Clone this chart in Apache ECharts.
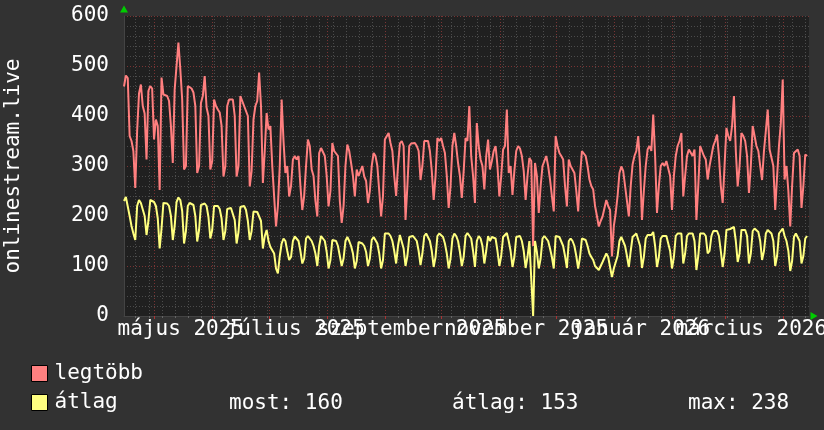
<!DOCTYPE html>
<html><head><meta charset="utf-8">
<script src="https://cdn.jsdelivr.net/npm/echarts@6/dist/echarts.min.js"></script>
<style>html,body{margin:0;padding:0;background:#323232;}#c{width:824px;height:430px;}</style>
</head><body><div id="c"></div>
<script>
// first day of data (Monday), one value per day
const startDay = [2025, 3, 14];
const monthStarts = [[2025,4],[2025,5],[2025,6],[2025,7],[2025,8],[2025,9],[2025,10],[2025,11],[2026,0],[2026,1],[2026,2],[2026,3]];
const labelMonths = [[2025,4],[2025,6],[2025,8],[2025,10],[2026,0],[2026,2]];
const monthLabels = ['május 2025','július 2025','szeptember 2025','november 2025','január 2026','március 2026'];
const seriesNames = ['legtöbb','átlag'];
const statTexts = ['most: 160','átlag: 153','max: 238'];
const yTicks = [0,100,200,300,400,500,600];

const legtobb = [
459,481,476,360,350,330,256, 370,445,463,420,405,313,450, 460,455,353,393,380,252,477, 443,445,440,430,380,306,453,
450,547,494,433,293,300,460, 460,455,447,420,286,300,426, 440,480,417,400,293,310,433, 420,413,407,380,279,300,420,
433,430,433,400,279,300,440, 438,420,417,400,259,290,393, 420,430,487,420,266,330,406, 373,380,300,239,179,220,300,
433,350,286,300,239,260,313, 320,313,320,260,212,240,300, 353,340,293,280,230,199,326, 336,340,320,280,219,250,346,
330,326,320,230,186,220,300, 343,330,306,280,239,293,280, 290,300,279,270,226,250,300, 326,320,300,250,199,240,353,
350,366,346,330,280,240,300, 345,350,340,192,260,340,345, 342,346,340,330,272,300,350, 348,350,330,290,232,280,356,
350,356,340,326,280,216,260, 340,366,340,306,280,236,290, 356,350,420,320,280,226,386, 340,313,300,253,320,353,293,
310,330,340,300,239,280,333, 340,413,286,300,242,290,330, 340,335,320,290,232,280,316, 310,140,306,280,206,260,300,
310,320,300,273,240,209,360, 340,326,320,313,260,219,313, 300,300,286,250,209,280,330, 325,320,300,273,260,253,220,
200,179,190,199,199,232,220, 212,119,180,206,240,286,299, 290,260,230,199,260,303,320, 330,360,300,192,250,300,333,
340,330,403,320,206,260,300, 306,300,310,306,280,212,280, 320,340,350,366,239,280,320, 333,330,320,333,192,260,340,
330,320,313,273,300,320,340, 350,363,320,260,226,300,376, 360,350,380,440,330,259,300, 366,360,350,320,246,300,380,
360,340,330,300,272,330,370, 413,333,330,300,212,280,340, 386,473,273,300,250,179,260, 326,330,333,320,216,260,323,
320
];
const atlag = [
230,238,234,200,180,165,152, 220,232,226,222,200,162,190, 232,232,228,220,195,135,175, 226,228,225,220,200,152,180,
228,237,232,210,145,170,220, 226,226,222,200,149,172,222, 226,225,220,198,155,172,220, 222,220,214,195,152,170,214,
216,216,212,192,145,168,218, 222,220,212,190,152,170,209, 210,208,205,190,135,160,172, 150,138,142,125,95,85,120,
145,155,150,130,112,118,150, 159,158,150,130,105,115,155, 160,158,150,140,125,100,140, 160,158,150,128,95,112,152,
155,150,140,120,100,115,150, 158,150,140,125,95,110,148, 150,145,140,128,100,115,152, 158,155,145,125,95,112,165,
169,165,160,150,130,105,140, 162,160,135,100,120,158,162, 160,158,150,130,102,125,160, 165,162,150,130,98,118,160,
165,165,158,145,125,95,115, 155,165,160,150,128,100,118, 160,166,168,155,130,98,150, 160,155,140,105,130,160,150,
158,160,155,130,100,120,158, 162,166,150,130,98,118,158, 162,160,150,130,96,118,150, 148,0,150,128,95,115,155,
160,160,150,135,118,95,160, 162,158,155,140,120,96,150, 155,150,140,120,95,118,155, 158,152,140,125,118,112,100,
98,92,100,108,105,125,118, 122,78,95,98,120,150,158, 155,140,120,98,130,158,162, 165,168,140,96,118,155,162,
165,162,168,140,98,118,155, 160,162,160,158,130,95,118, 160,165,168,165,105,125,160, 165,168,165,150,92,120,165,
168,165,160,125,130,160,170, 172,170,160,130,98,125,172, 176,174,172,178,150,108,125, 172,175,172,160,105,125,170,
175,172,168,150,112,130,165, 172,170,165,150,100,120,165, 170,175,160,150,130,90,110, 158,165,162,150,105,120,155,
160
];

const DAY = 86400000;
const t0 = Date.UTC(startDay[0], startDay[1], startDay[2]);
const dayOf = m => (Date.UTC(m[0], m[1], 1) - t0) / DAY;
const xMin = 0.75, xMax = 365.75;
const pinkData = legtobb.map((v, i) => [xMin + i, v]);
const yellowData = atlag.map((v, i) => [xMin + i, v]);
const mondays = []; for (let d = 7; d < xMax; d += 7) mondays.push(d);
const monthLines = monthStarts.map(dayOf);
const labelPos = labelMonths.map(m => dayOf(m) + 14);
const FONT = 'DejaVu Sans Mono';
const TXT = '#ffffff';
const GRAY = '#4c4c4c', RED = '#7a3434';

const labelAxis = (idxs) => ({
  type: 'value', min: xMin, max: xMax, position: 'bottom',
  axisLine: {show: false}, axisTick: {show: false}, splitLine: {show: false},
  axisLabel: {show: true, customValues: idxs.map(k => labelPos[k]), margin: 3, color: TXT, fontFamily: FONT, fontSize: 21,
    hideOverlap: false,
    formatter: v => { const k = labelPos.indexOf(v); return k >= 0 ? monthLabels[k] : ''; }}
});

const chart = echarts.init(document.getElementById('c'), null, {renderer: 'canvas'});
chart.setOption({
  backgroundColor: '#323232',
  animation: false,
  grid: {left: 124, right: 15, top: 16, bottom: 114, backgroundColor: '#202020', show: true, borderWidth: 0,
         containLabel: false, outerBoundsMode: 'none'},
  legend: {
    orient: 'vertical', left: 26, top: 358, itemWidth: 16, itemHeight: 16, itemGap: 8,
    icon: 'rect', selectedMode: false,
    textStyle: {color: TXT, fontFamily: FONT, fontSize: 21, padding: [0, 0, 0, 2]},
    data: seriesNames.map((n, k) => ({name: n, itemStyle: {color: k ? '#ffff80' : '#ff8080', borderColor: '#000', borderWidth: 1}}))
  },
  graphic: [
    {type: 'text', left: 229, top: 393, style: {text: statTexts[0], fill: TXT, font: '21px "DejaVu Sans Mono"'}},
    {type: 'text', left: 452, top: 393, style: {text: statTexts[1], fill: TXT, font: '21px "DejaVu Sans Mono"'}},
    {type: 'text', left: 688, top: 393, style: {text: statTexts[2], fill: TXT, font: '21px "DejaVu Sans Mono"'}}
  ],
  xAxis: [
    {type: 'value', min: xMin, max: xMax,
     axisLine: {show: true, onZero: false, lineStyle: {color: '#444'}},
     axisTick: {show: true, customValues: mondays, length: 2, lineStyle: {color: '#666'}},
     axisLabel: {show: false},
     splitLine: {show: true, lineStyle: {color: GRAY, type: [1, 2], width: 1}}},
    {type: 'value', min: xMin, max: xMax, position: 'bottom',
     axisLine: {show: true, onZero: false, symbol: ['none', 'triangle'], symbolSize: [8, 7], symbolOffset: [0, 5], lineStyle: {color: '#00cc00', width: 0}},
     axisTick: {show: true, customValues: monthLines, length: 3, lineStyle: {color: '#aa3333'}},
     axisLabel: {show: false},
     splitLine: {show: true, lineStyle: {color: RED, type: [1, 2], width: 1}}},
    labelAxis([0, 2, 4]),
    labelAxis([1, 3, 5])
  ],
  yAxis: [
    {type: 'value', min: 0, max: 600, interval: 20,
     name: 'onlinestream.live', nameLocation: 'middle', nameGap: 100, nameRotate: 90,
     nameTextStyle: {color: TXT, fontFamily: FONT, fontSize: 21},
     axisLine: {show: true, lineStyle: {color: '#444'}},
     axisTick: {show: false},
     axisLabel: {color: TXT, fontFamily: FONT, fontSize: 21, margin: 15,
       formatter: v => yTicks.indexOf(v) >= 0 ? String(v) : ''},
     splitLine: {show: true, lineStyle: {color: [RED, GRAY, GRAY, GRAY, GRAY], type: [1, 2], width: 1}}},
    {type: 'value', min: 0, max: 600, position: 'left',
     axisLine: {show: true, symbol: ['none', 'triangle'], symbolSize: [8, 7], symbolOffset: [0, 7], lineStyle: {color: '#00cc00', width: 0}},
     axisTick: {show: false}, axisLabel: {show: false}, splitLine: {show: false}}
  ],
  series: [
    {name: seriesNames[0], type: 'line', data: pinkData, showSymbol: false, symbol: 'none',
     lineStyle: {color: '#ff7f7f', width: 2}, itemStyle: {color: '#ff8080'}, z: 3},
    {name: seriesNames[1], type: 'line', data: yellowData, showSymbol: false, symbol: 'none',
     lineStyle: {color: '#ffff7f', width: 2}, itemStyle: {color: '#ffff80'}, z: 4}
  ]
});
</script></body></html>
